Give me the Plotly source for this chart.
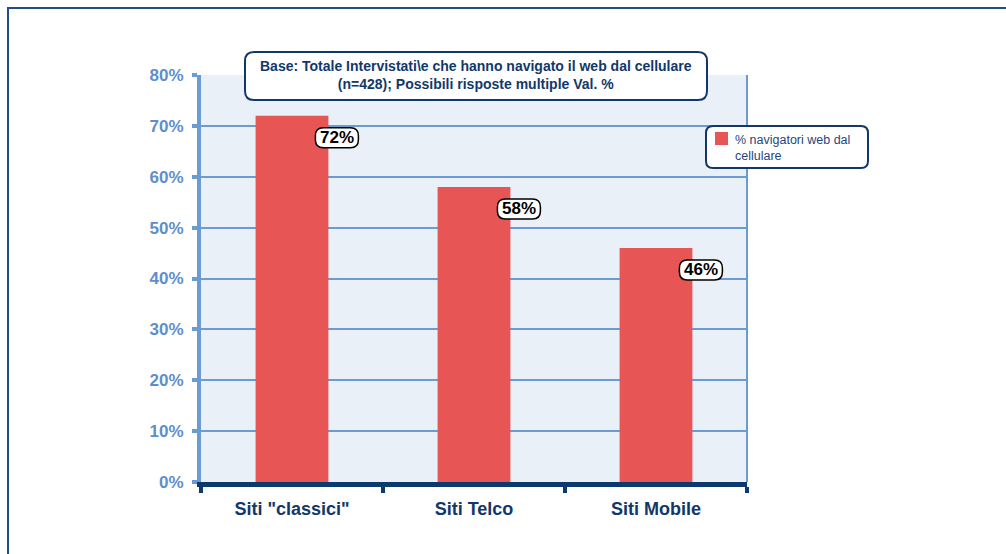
import plotly.graph_objects as go

# Data
categories = ['Siti "classici"', "Siti Telco", "Siti Mobile"]
values = [72, 58, 46]
y_ticks = [0, 10, 20, 30, 40, 50, 60, 70, 80]
series_name = "% navigatori web dal<br>cellulare"
title_text = ("Base: Totale Intervistati\\e che hanno navigato il web dal cellulare<br>"
              "(n=428); Possibili risposte multiple Val. %")

BAR_COLOR = "#e85555"
NAVY = "#12386a"
LIGHT_BLUE = "#6a9bd3"
TICK_BLUE = "#5e8ecc"
FONT = "Liberation Sans, Arial, sans-serif"

W, H = 1006, 554
M_L, M_R, M_T, M_B = 201, 259, 75, 72
PW, PH = W - M_L - M_R, H - M_T - M_B


def rounded_path(x0, y0, w, h, r):
    """Rounded rectangle path in pixels (y up), lower-left corner at (x0, y0)."""
    x1, y1 = x0 + w, y0 + h
    return (f"M {x0 + r},{y0} L {x1 - r},{y0} Q {x1},{y0} {x1},{y0 + r} "
            f"L {x1},{y1 - r} Q {x1},{y1} {x1 - r},{y1} "
            f"L {x0 + r},{y1} Q {x0},{y1} {x0},{y1 - r} L {x0},{y0 + r} "
            f"Q {x0},{y0} {x0 + r},{y0} Z")


def px_x(px):
    return (px - M_L) / PW


def px_y(py):
    return (H - M_B - py) / PH


x_pos = list(range(len(categories)))
bar_width = 0.4

fig = go.Figure()
fig.add_trace(go.Bar(
    x=x_pos, y=values, width=bar_width, name=series_name,
    marker=dict(color=BAR_COLOR, line=dict(width=0)),
    showlegend=False,
))

shapes = []
annotations = []

# value labels in rounded white boxes, hung off the bar's top-right corner
for xi, v in zip(x_pos, values):
    anchor_x = xi + bar_width / 2
    shapes.append(dict(
        type="path", xref="x", yref="y", xsizemode="pixel", ysizemode="pixel",
        xanchor=anchor_x, yanchor=v,
        path=rounded_path(-13, -32, 43, 20, 8),
        fillcolor="white", line=dict(color="black", width=1.5), layer="above",
    ))
    annotations.append(dict(
        x=anchor_x, y=v, xref="x", yref="y", text=f"<b>{v}%</b>",
        showarrow=False, xshift=8.5, yshift=-22,
        xanchor="center", yanchor="middle",
        font=dict(family=FONT, size=17, color="black"),
    ))

# right edge of the plot frame
shapes.append(dict(type="line", xref="paper", yref="paper", x0=1, x1=1, y0=0, y1=1,
                   line=dict(color=LIGHT_BLUE, width=2), layer="below"))

# outer frame of the slide
shapes.append(dict(type="rect", xref="paper", yref="paper",
                   x0=px_x(8), x1=px_x(1100), y0=px_y(8), y1=px_y(620),
                   line=dict(color="#1f4f8a", width=2), fillcolor="rgba(0,0,0,0)"))

# title box
shapes.append(dict(type="path", xref="paper", yref="paper", xsizemode="pixel", ysizemode="pixel",
                   xanchor=px_x(245), yanchor=px_y(100),
                   path=rounded_path(0, 0, 462, 48, 9),
                   fillcolor="white", line=dict(color=NAVY, width=2), layer="above"))
annotations.append(dict(x=px_x(476), y=px_y(75), xref="paper", yref="paper",
                        xanchor="center", yanchor="middle",
                        text=f"<b>{title_text}</b>", showarrow=False,
                        font=dict(family=FONT, size=14, color=NAVY), align="center"))

# legend box
shapes.append(dict(type="path", xref="paper", yref="paper", xsizemode="pixel", ysizemode="pixel",
                   xanchor=px_x(706), yanchor=px_y(168),
                   path=rounded_path(0, 0, 162, 42, 7),
                   fillcolor="white", line=dict(color=NAVY, width=2), layer="above"))
shapes.append(dict(type="rect", xref="paper", yref="paper",
                   x0=px_x(715), x1=px_x(728), y0=px_y(145), y1=px_y(132),
                   fillcolor=BAR_COLOR, line=dict(width=0), layer="above"))
annotations.append(dict(x=px_x(733), y=px_y(148), xref="paper", yref="paper",
                        xanchor="left", yanchor="middle", align="left",
                        text=series_name, showarrow=False,
                        font=dict(family=FONT, size=12.5, color="#24477a")))

fig.update_layout(
    width=W, height=H,
    margin=dict(l=M_L, r=M_R, t=M_T, b=M_B, pad=0),
    paper_bgcolor="white", plot_bgcolor="#e9f0f8",
    font=dict(family=FONT),
    shapes=shapes, annotations=annotations,
    xaxis=dict(
        range=[-0.5, len(categories) - 0.5],
        tickvals=x_pos, ticktext=[f"<b>{c}</b>" for c in categories],
        tickfont=dict(family=FONT, size=18, color=NAVY),
        ticks="", ticklabelstandoff=6,
        showgrid=False, zeroline=False,
        showline=True, linecolor="#0d3a6e", linewidth=5,
        minor=dict(tick0=-0.5, dtick=1, ticks="outside", ticklen=6,
                   tickwidth=4, tickcolor="#0d3a6e", showgrid=False),
        fixedrange=True,
    ),
    yaxis=dict(
        range=[0, 80], tickvals=y_ticks,
        ticktext=[f"<b>{t}%</b>" for t in y_ticks],
        tickfont=dict(family=FONT, size=17, color=TICK_BLUE),
        ticks="outside", ticklen=5, tickwidth=4, tickcolor=LIGHT_BLUE,
        showgrid=True, gridcolor=LIGHT_BLUE, gridwidth=2,
        zeroline=False,
        showline=True, linecolor=LIGHT_BLUE, linewidth=4,
        ticklabelstandoff=5,
        fixedrange=True,
    ),
)

fig.write_html("out.html")
